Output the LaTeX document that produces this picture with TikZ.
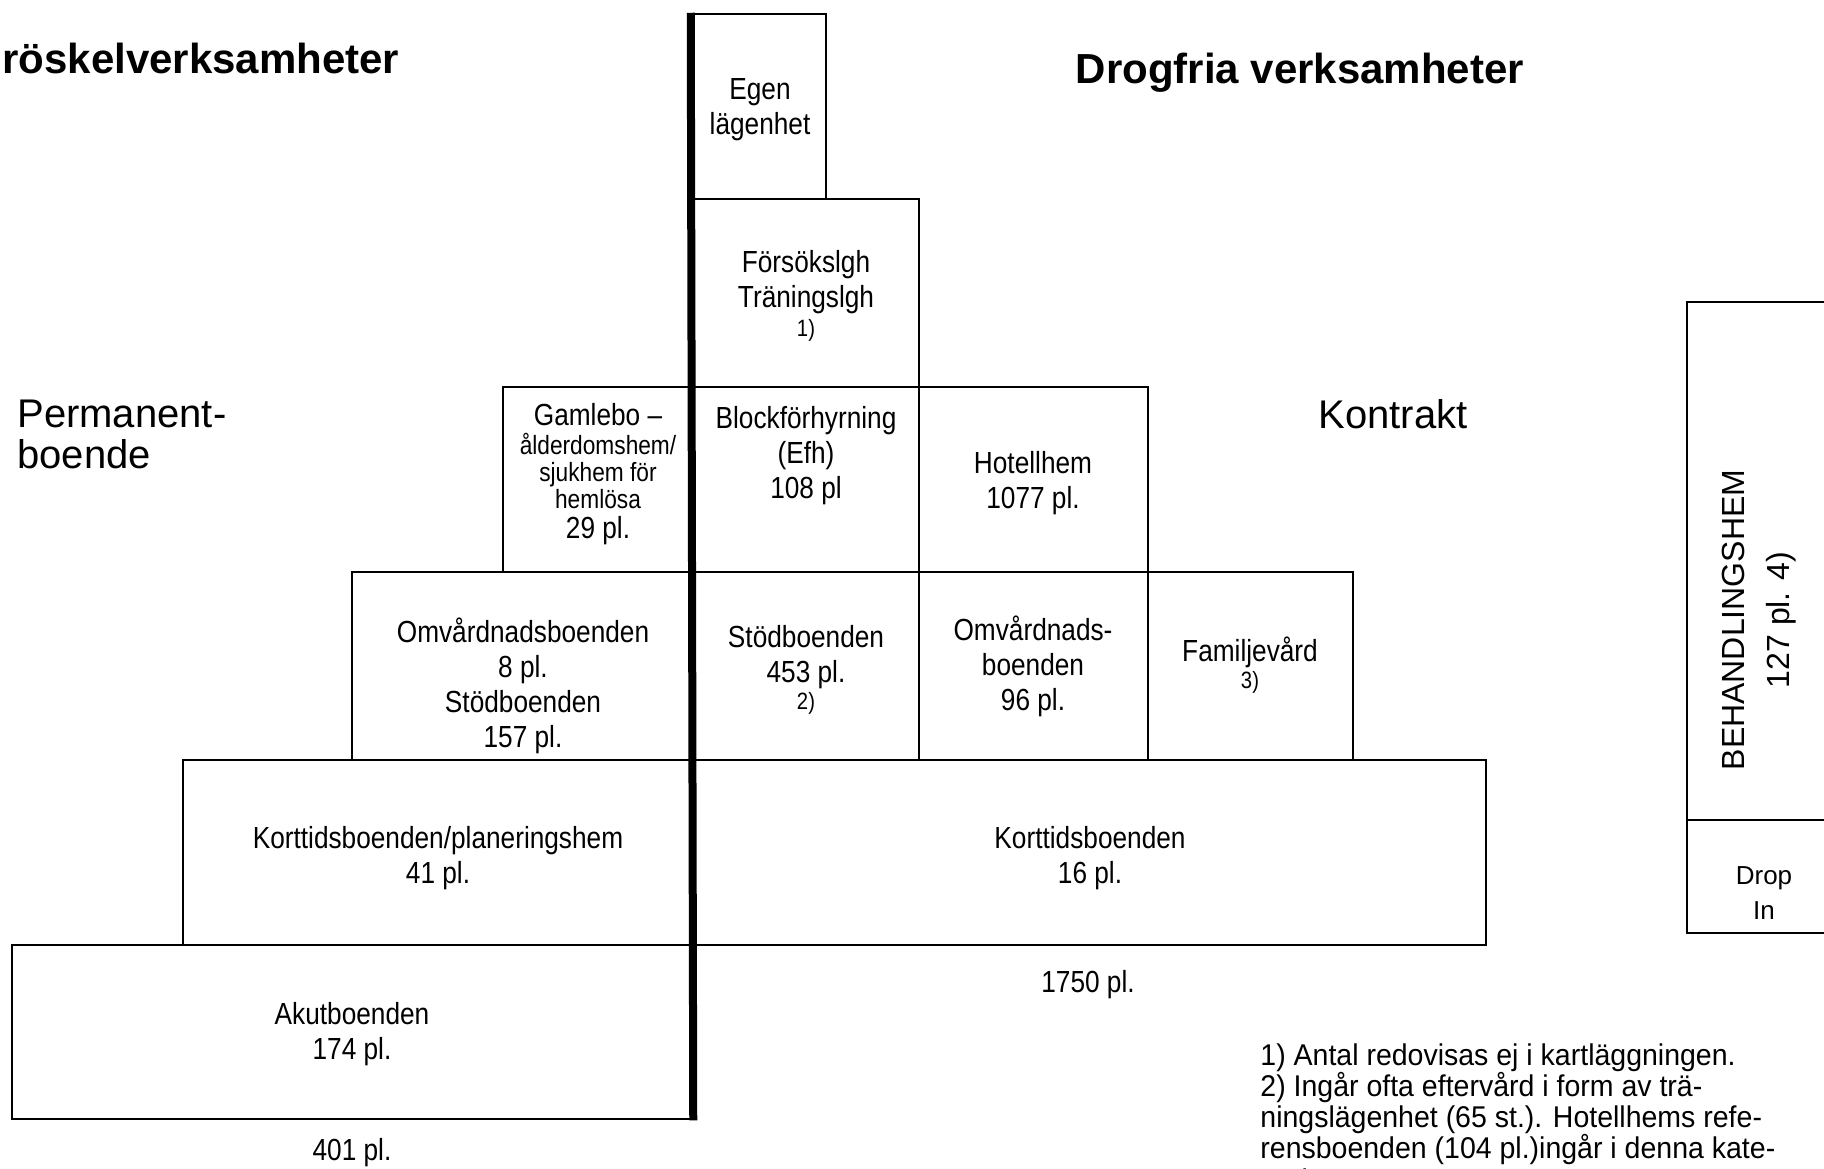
\documentclass[tikz,border=0pt]{standalone}
\usepackage{fontspec}
\setmainfont{Liberation Sans}
\newfontfamily\narrowsans{Liberation Sans}[FakeStretch=0.86]
\newfontfamily\notesans{Liberation Sans}[FakeStretch=0.95]
\usetikzlibrary{fit}
\newcommand{\cellsize}{\narrowsans\fontsize{15.25}{17.5}\selectfont}
\newcommand{\notesize}{\narrowsans\fontsize{13.2}{13.5}\selectfont}
\newcommand{\marksize}{\narrowsans\fontsize{11.8}{12}\selectfont}
\newcommand{\sidesize}{\fontsize{20}{20.5}\selectfont}
\newcommand{\headsize}{\fontsize{21}{26}\selectfont\bfseries}
\newcommand{\footsize}{\notesans\fontsize{15}{15.6}\selectfont}

\begin{document}
\begin{tikzpicture}[
    x=0.5pt, y=-0.5pt,
    cell/.style={draw, line width=1.25pt, inner sep=0pt},
    txt/.style={inner sep=0pt, align=center, font=\cellsize},
    rbox/.style={draw, line width=1pt, inner sep=0pt},
    rtxt/.style={inner sep=0pt, align=center, font=\fontsize{13}{17.5}\selectfont},
    head/.style={inner sep=0pt, font=\headsize},
    side/.style={inner sep=0pt, font=\sidesize},
    note/.style={inner sep=0pt, align=left, font=\footsize},
    spine/.style={line width=4pt}
  ]
  \useasboundingbox (0,0) rectangle (1824,1168);

  % rubriker
  \node[head, anchor=west] (trosk) at (2,58) {röskelverksamheter};
  \node[head] (drogfri) at (1300,73) {Drogfria verksamheter};
  \node[side, anchor=west, align=left] (perm) at (17,434) {Permanent-\\boende};
  \node[side] (kontrakt) at (1393,414) {Kontrakt};

  % pyramiden
  \node[cell, fit={(692,14) (826,199)}] (egen) {};
  \node[cell, fit={(692,199) (919,387)}] (forsok) {};
  \node[cell, fit={(503,387) (692,572)}] (gamlebo) {};
  \node[cell, fit={(692,387) (919,572)}] (block) {};
  \node[cell, fit={(919,387) (1148,572)}] (hotell) {};
  \node[cell, fit={(352,572) (692,760)}] (omvard) {};
  \node[cell, fit={(692,572) (919,760)}] (stod) {};
  \node[cell, fit={(919,572) (1148,760)}] (omvard2) {};
  \node[cell, fit={(1148,572) (1353,760)}] (familj) {};
  \node[cell, fit={(183,760) (692,945)}] (kortplan) {};
  \node[cell, fit={(692,760) (1486,945)}] (kort) {};
  \node[cell, fit={(12,945) (692,1119)}] (akut) {};
  \draw[spine] (egen.north west) -- (akut.south east);

  \node[txt] (egen-t) at (760,110) {Egen\\lägenhet};
  \node[txt] (forsok-t) at (806,295.5) {Försökslgh\\Träningslgh\\[-3pt]{\marksize 1)}};
  \node[txt] (gamlebo-t) at (598,474) {Gamlebo –\\[-3pt]{\notesize ålderdomshem/}\\[-4pt]{\notesize sjukhem för}\\[-4pt]{\notesize hemlösa}\\[-2.5pt]29 pl.};
  \node[txt] (block-t) at (806,456) {Blockförhyrning\\(Efh)\\108 pl};
  \node[txt] (hotell-t) at (1033,483) {Hotellhem\\1077 pl.};
  \node[txt] (omvard-t) at (523,686) {Omvårdnadsboenden\\8 pl.\\Stödboenden\\157 pl.};
  \node[txt] (stod-t) at (806,669.5) {Stödboenden\\453 pl.\\[-4pt]{\marksize 2)}};
  \node[txt] (omvard2-t) at (1033,666) {Omvårdnads-\\boenden\\96 pl.};
  \node[txt] (familj-t) at (1250,665.5) {Familjevård\\[-4pt]{\marksize 3)}};
  \node[txt] (kortplan-t) at (438,858.5) {Korttidsboenden/planeringshem\\41 pl.};
  \node[txt] (kort-t) at (1090,858.5) {Korttidsboenden\\16 pl.};
  \node[txt] (akut-t) at (352,1034) {Akutboenden\\174 pl.};

  % summor
  \node[txt] (sum-l) at (352,1153) {401 pl.};
  \node[txt] (sum-r) at (1088,985) {1750 pl.};

  % behandlingshem
  \node[rbox, fit={(1687,302) (1840,820)}] (behand) {};
  \node[rbox, fit={(1687,820) (1840,933)}] (drop) {};
  \node[rtxt, rotate=90, font=\fontsize{16}{22.5}\selectfont] (behand-t) at (1759,620) {BEHANDLINGSHEM\\127 pl. 4)};
  \node[rtxt] (drop-t) at (1764,893.5) {Drop\\In};

  % fotnoter
  \node[note, anchor=west] (notes) at (1260,1120) {1) Antal redovisas ej i kartläggningen.\\2) Ingår ofta eftervård i form av trä-\\ningslägenhet (65 st.). Hotellhems refe-\\rensboenden (104 pl.)ingår i denna kate-\\gori.};
\end{tikzpicture}
\end{document}
